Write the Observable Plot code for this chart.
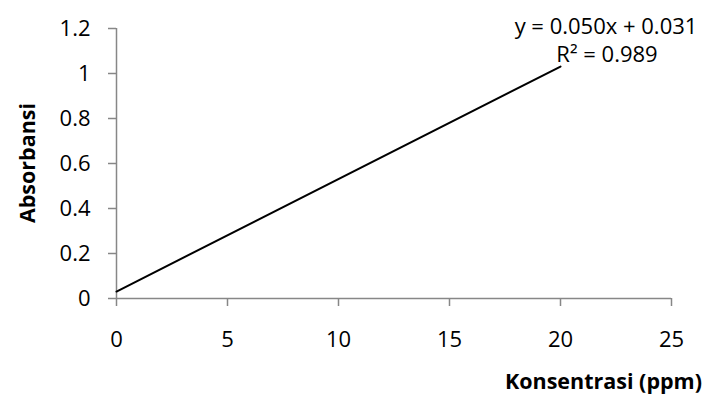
<!DOCTYPE html>
<html>
<head>
<meta charset="utf-8">
<script src="https://cdn.jsdelivr.net/npm/d3@7"></script>
<script src="https://cdn.jsdelivr.net/npm/@observablehq/plot@0.6"></script>
<style>
  html, body { margin: 0; padding: 0; background: #fff; }
  svg { display: block; }
</style>
</head>
<body>
<div id="chart"></div>
<script>
const lineX = [0, 20];
const lineY = [0.031, 1.031];
const xTicks = [0, 5, 10, 15, 20, 25];
const yTicks = [0, 0.2, 0.4, 0.6, 0.8, 1, 1.2];
const equationText = "y = 0.050x + 0.031";
const r2Text = "R² = 0.989";
const xTitle = "Konsentrasi (ppm)";
const yTitle = "Absorbansi";

const data = lineX.map((x, i) => ({x, y: lineY[i]}));
const gray = "#878787";
const font = "'Open Sans', sans-serif";

const chart = Plot.plot({
  width: 705,
  height: 402,
  marginLeft: 116,
  marginRight: 34,
  marginTop: 28,
  marginBottom: 104,
  style: {fontFamily: font, fontSize: "22px", color: "#000", background: "#fff"},
  x: {domain: [0, 25]},
  y: {domain: [0, 1.2]},
  marks: [
    Plot.ruleY([0], {stroke: gray, strokeWidth: 1.5}),
    Plot.ruleX([0], {stroke: gray, strokeWidth: 1.5}),
    Plot.axisX({ticks: xTicks, tickSize: 8, tickPadding: 25, stroke: gray, strokeWidth: 1.5, fill: "#000", fontSize: 22, label: null}),
    Plot.axisY({ticks: yTicks, tickSize: 8, tickPadding: 18, stroke: gray, strokeWidth: 1.5, fill: "#000", fontSize: 22, label: null, tickFormat: d => String(+d.toFixed(1))}),
    Plot.line(data, {x: "x", y: "y", stroke: "#000", strokeWidth: 2})
  ]
});
document.getElementById("chart").appendChild(chart);

const svg = d3.select(chart);
svg.append("text").attr("x", 606).attr("y", 25).attr("text-anchor", "middle").attr("dominant-baseline", "central")
  .style("font-family", font).style("font-size", "22px").text(equationText);
svg.append("text").attr("x", 607).attr("y", 53).attr("text-anchor", "middle").attr("dominant-baseline", "central")
  .style("font-family", font).style("font-size", "22px").text(r2Text);
svg.append("text").attr("x", 702).attr("y", 380).attr("text-anchor", "end").attr("dominant-baseline", "central")
  .style("font-family", font).style("font-size", "21.5px").style("font-weight", "bold").text(xTitle);
svg.append("text").attr("transform", "translate(26,163) rotate(-90)").attr("text-anchor", "middle").attr("dominant-baseline", "central")
  .style("font-family", font).style("font-size", "21.5px").style("font-weight", "bold").text(yTitle);
</script>
</body>
</html>
